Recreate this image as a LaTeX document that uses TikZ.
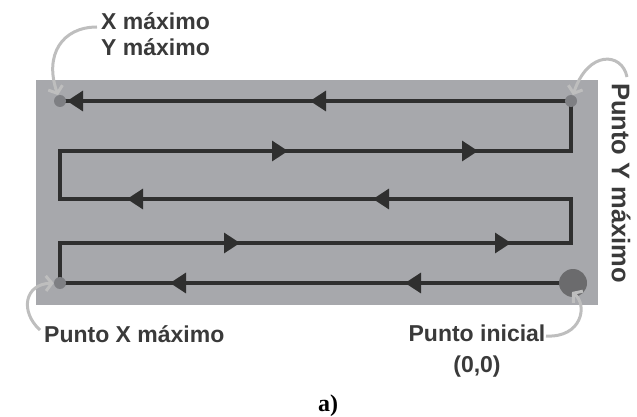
\documentclass[tikz,border=0pt]{standalone}
\usepackage{fontspec}
\newfontfamily\labelfont{Liberation Sans Bold}
\newfontfamily\capfont{Liberation Serif}
\usetikzlibrary{arrows.meta,decorations.markings}

\definecolor{panelgray}{HTML}{A7A8AC}
\definecolor{routegray}{HTML}{2F2F2F}
\definecolor{dotgray}{HTML}{7E7F83}
\definecolor{startgray}{HTML}{6B6B6D}
\definecolor{calloutgray}{HTML}{BEBEBE}
\definecolor{txtgray}{HTML}{3A3A3A}

\tikzset{
  panel/.style={fill=panelgray},
  route/.style={draw=routegray, line width=3.2pt, line join=miter},
  smalldot/.style={circle, fill=dotgray, minimum size=12pt, inner sep=0pt},
  bigdot/.style={circle, fill=startgray, minimum size=28pt, inner sep=0pt},
  callout/.style={draw=calloutgray, line width=3pt,
    -{Straight Barb[length=6pt,width=15pt,line width=3pt]}},
  lbl/.style={font=\labelfont\fontsize{23}{26}\selectfont, text=txtgray, inner sep=0pt},
  dirmark/.style={postaction={decorate}, decoration={markings,
    mark=at position 168pt with {\arrow{Triangle[length=16pt,width=20pt]}},
    mark=at position 403pt with {\arrow{Triangle[length=16pt,width=20pt]}},
    mark=at position 733pt with {\arrow{Triangle[length=16pt,width=20pt]}},
    mark=at position 1004pt with {\arrow{Triangle[length=16pt,width=20pt]}},
    mark=at position 1306pt with {\arrow{Triangle[length=16pt,width=20pt]}},
    mark=at position 1552pt with {\arrow{Triangle[length=16pt,width=20pt]}},
    mark=at position 1895pt with {\arrow{Triangle[length=16pt,width=20pt]}},
    mark=at position 2085pt with {\arrow{Triangle[length=16pt,width=20pt]}},
    mark=at position 2489pt with {\arrow{Triangle[length=16pt,width=20pt]}},
    mark=at position 2732pt with {\arrow{Triangle[length=16pt,width=20pt]}}}},
}

\begin{document}
\begin{tikzpicture}[x=1pt,y=-1pt]
\useasboundingbox (0,0) rectangle (637,417);

% working area
\fill[panel] (36,80) rectangle (598,305);

% corners of the zig-zag route
\coordinate (S) at (573,283);
\coordinate (A) at (60,283);
\coordinate (B) at (60,243);
\coordinate (C) at (571,243);
\coordinate (D) at (571,199);
\coordinate (E) at (60,199);
\coordinate (F) at (60,151);
\coordinate (G) at (571,151);
\coordinate (H) at (571,101);
\coordinate (I) at (60,101);

% route with direction marks
\draw[route, dirmark]
  (S) -- (A) -- (B) -- (C) -- (D) -- (E) -- (F) -- (G) -- (H) -- (I);

% points of the route
\node[bigdot] (start) at (S) {};
\node[smalldot] (xmaxdot) at (A) {};
\node[smalldot] (ymaxdot) at (H) {};
\node[smalldot] (xymaxdot) at (I) {};

% labels
\node[lbl, anchor=north west, align=left] (xy) at (101,12) {X máximo\\Y máximo};
\node[lbl, rotate=-90, font=\labelfont\fontsize{25.5}{28}\selectfont] (ym) at (621,183) {Punto Y máximo};
\node[lbl, anchor=base west] (xm) at (44,342) {Punto X máximo};
\node[lbl, anchor=north, align=center, font=\labelfont\fontsize{23}{31}\selectfont]
  (pi) at (477,325) {Punto inicial\\(0,0)};
\node[font=\capfont\bfseries\fontsize{24}{26}\selectfont, text=black, inner sep=0pt]
  (cap) at (328,406) {a)};

% callouts
\coordinate (c1) at (97,27);
\coordinate (c2) at (627,77);
\coordinate (c3) at (40,330);
\coordinate (c4) at (546,336);
\coordinate (t4) at (572,292);
\draw[callout] (c1) .. controls (62,27) and (44,55) .. (xymaxdot);
\draw[callout] (c2) .. controls (622,52) and (588,50) .. (ymaxdot);
\draw[callout] (c3) .. controls (20,312) and (24,284) .. (xmaxdot);
\draw[callout] (c4) .. controls (582,338) and (588,305) .. (t4);
\end{tikzpicture}
\end{document}
